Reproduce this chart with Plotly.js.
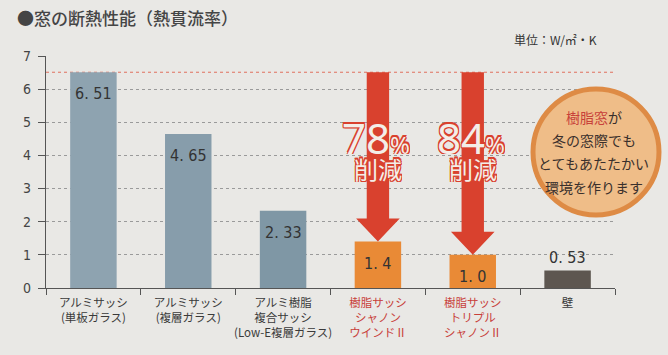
<!DOCTYPE html>
<html><head><meta charset="utf-8">
<script src="https://cdn.plot.ly/plotly-3.0.1.min.js"></script>
<style>html,body{margin:0;padding:0;background:#e9e8e5;}</style>
</head><body>
<div id="chart" style="width:668px;height:355px;"></div>
<script>
// ---- data ----
const categories = [
  "アルミサッシ<br>(単板ガラス)",
  "アルミサッシ<br>(複層ガラス)",
  "アルミ樹脂<br>複合サッシ<br>(Low-E複層ガラス)",
  "樹脂サッシ<br>シャノン<br>ウインドⅡ",
  "樹脂サッシ<br>トリプル<br>シャノンⅡ",
  "壁"
];
const values = [6.51, 4.65, 2.33, 1.4, 1.0, 0.53];
const valueLabels = ["6.51", "4.65", "2.33", "1.4", "1.0", "0.53"];
const highlighted = [false, false, false, true, true, false];
const reductionTargets = [3, 4];          // bars with reduction arrows
const reductionLabels = ["78", "84"];     // percent reduction as printed
const yTicks = [0, 1, 2, 3, 4, 5, 6, 7];
const titleText = "●窓の断熱性能（熱貫流率）";
const unitText = "単位：W/㎡・K";
const bubbleLines = ["<span style='color:#c8413a'>樹脂窓</span>が", "冬の窓際でも", "とてもあたたかい", "環境を作ります"];

// ---- styles ----
const idx = categories.map((_, i) => i);
const barColors = ["#8ea3b0", "#879dab", "#7f97a5", "#e98a36", "#e98a36", "#5d5650"];
const RED = "#d9412e";
const CJK = "Noto Sans CJK JP, sans-serif";
const NUM = "Liberation Sans Narrow, DejaVu Sans Condensed, sans-serif";

const ticktext = categories.map((c, i) => highlighted[i] ? `<span style="color:#c8403a">${c}</span>` : c);

const trace = {
  type: "bar",
  x: idx,
  y: values,
  width: 0.49,
  marker: {color: barColors, line: {width: 0}},
  hoverinfo: "skip"
};

// arrows built from data values
const shapes = [];
const topVal = values[0];
shapes.push({type: "line", xref: "paper", x0: 0, x1: 1, yref: "y", y0: topVal, y1: topVal,
  line: {color: "#e0705e", width: 1, dash: "dot"}, layer: "between"});
const sw = 0.118, hw = 0.23, hl = 0.7;
reductionTargets.forEach(i => {
  const tip = values[i];
  const p = `M ${i - sw} ${topVal} L ${i + sw} ${topVal} L ${i + sw} ${tip + hl} L ${i + hw} ${tip + hl} L ${i} ${tip} L ${i - hw} ${tip + hl} L ${i - sw} ${tip + hl} Z`;
  shapes.push({type: "path", xref: "x", yref: "y", path: p, fillcolor: RED, line: {width: 0}, layer: "above"});
});
// bubble
shapes.push({type: "circle", xref: "paper", yref: "paper", xsizemode: "pixel", ysizemode: "pixel",
  xanchor: 0.9666, yanchor: 0.586, x0: -63, x1: 63, y0: -63, y1: 63,
  fillcolor: "#efbd88", line: {color: "#de8b45", width: 5}, layer: "above"});

const annotations = [];
// value labels
values.forEach((v, i) => {
  const inside = i < values.length - 1;
  annotations.push({xref: "x", yref: "y", x: i, y: v, showarrow: false,
    xanchor: "center", yanchor: inside ? "top" : "bottom", yshift: inside ? -10 : 1,
    text: valueLabels[i].replace(".", ". "),
    font: {family: NUM, size: 16, color: "#333"}});
});
const o = 1.1;
const outline = [[-o,-o],[o,-o],[-o,o],[o,o],[0,o],[0,-o],[o,0],[-o,0]].map(d => `${d[0]}px ${d[1]}px 0 ${RED}`).join(", ");
reductionTargets.forEach((i, k) => {
  annotations.push({xref: "x", yref: "y", x: i, y: 4.56, showarrow: false, xanchor: "center", yanchor: "middle",
    height: 34, borderpad: 0,
    text: `${reductionLabels[k]}<span style="font-size:24px">%</span>`,
    font: {family: "Noto Sans, sans-serif", size: 42, color: "#f3eee8", shadow: outline}, xshift: -2});
  annotations.push({xref: "x", yref: "y", x: i, y: 3.62, showarrow: false, xanchor: "center", yanchor: "middle",
    height: 28, borderpad: 0,
    text: "削減",
    font: {family: CJK, size: 24, color: "#f3eee8", shadow: outline}});
});
const bubbleY = [0.737, 0.638, 0.539, 0.435];
bubbleLines.forEach((t, k) => {
  annotations.push({xref: "paper", yref: "paper", x: 0.963, y: bubbleY[k], showarrow: false,
    xanchor: "center", yanchor: "middle", text: t, font: {family: CJK, size: 14, color: "#3a302c"}});
});
annotations.push({xref: "paper", yref: "paper", x: 0.896, y: 1.069, showarrow: false,
  xanchor: "center", yanchor: "middle",
  text: unitText, font: {family: CJK, size: 12, color: "#333"}});

const layout = {
  width: 668, height: 355,
  margin: {l: 46, r: 53, t: 56, b: 67},
  paper_bgcolor: "#e9e8e5",
  plot_bgcolor: "#e9e8e5",
  showlegend: false,
  title: {text: titleText, xref: "container", yref: "container", x: 17 / 668, xanchor: "left",
    y: 1 - 19 / 355, yanchor: "middle", font: {family: CJK, size: 17, color: "#454545", weight: 500}},
  xaxis: {
    range: [-0.5, 5.5], tickmode: "array", tickvals: idx, ticktext: ticktext,
    ticks: "", showgrid: false, zeroline: false, showline: true, linecolor: "#555", linewidth: 1.2,
    tickfont: {family: CJK, size: 11.5, color: "#3a3a3a"}, ticklabelstandoff: 4,
    minor: {tickmode: "array", tickvals: idx.concat([idx.length]).map(v => v - 0.5), ticks: "outside",
      ticklen: 6, tickcolor: "#555", tickwidth: 1, showgrid: false}
  },
  yaxis: {
    range: [0, 7], tickmode: "array", tickvals: yTicks, ticks: "outside", ticklen: 7, tickcolor: "#555",
    showline: true, linecolor: "#555", linewidth: 1.2, zeroline: false,
    showgrid: true, gridcolor: "#9a9a9a", griddash: "dot", gridwidth: 1,
    tickfont: {family: NUM, size: 14, color: "#444"}, ticklabelstandoff: 4
  },
  shapes: shapes,
  annotations: annotations
};

Plotly.newPlot("chart", [trace], layout, {displayModeBar: false, staticPlot: true});
</script>
</body></html>
